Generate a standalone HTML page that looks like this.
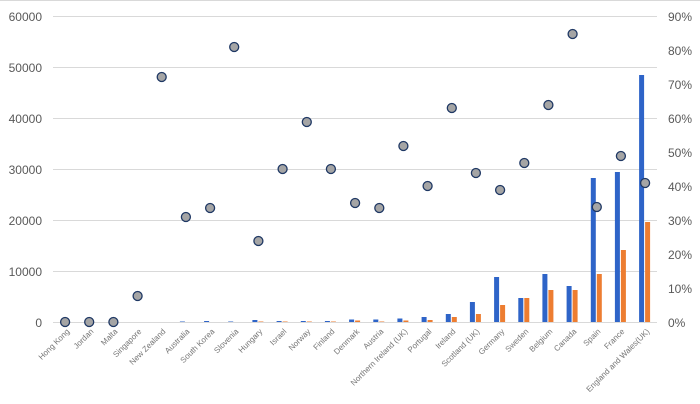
<!DOCTYPE html>
<html><head><meta charset="utf-8"><style>
body{margin:0;background:#fff}
svg{display:block;font-family:"Liberation Sans",sans-serif}
.ax{font-size:12px;fill:#595959}
.cat{font-size:8px;fill:#767676}
.b{fill:#2e64c8}
.o{fill:#ed7d31}
.d{fill:#a5a5a5;stroke:#1f3864;stroke-width:1.3}
</style></head><body>
<svg width="700" height="404" viewBox="0 0 700 404">
<rect x="0" y="0" width="700" height="404" fill="#fff"/>
<line x1="0" y1="0.5" x2="700" y2="0.5" stroke="#d9d9d9"/>
<g stroke="#d9d9d9" stroke-width="1">
<line x1="53" y1="16.5" x2="657" y2="16.5"/>
<line x1="53" y1="67.5" x2="657" y2="67.5"/>
<line x1="53" y1="118.5" x2="657" y2="118.5"/>
<line x1="53" y1="169.5" x2="657" y2="169.5"/>
<line x1="53" y1="220.5" x2="657" y2="220.5"/>
<line x1="53" y1="271.5" x2="657" y2="271.5"/>
<line x1="53" y1="322.5" x2="657" y2="322.5"/>
</g>
<g class="ax" text-anchor="end">
<text x="42" y="21">60000</text><text x="42" y="72">50000</text><text x="42" y="123">40000</text>
<text x="42" y="174">30000</text><text x="42" y="225">20000</text><text x="42" y="276">10000</text><text x="42" y="327">0</text>
</g>
<g class="ax">
<text x="668" y="21">90%</text><text x="668" y="55">80%</text><text x="668" y="89">70%</text>
<text x="668" y="123">60%</text><text x="668" y="157">50%</text><text x="668" y="191">40%</text>
<text x="668" y="225">30%</text><text x="668" y="259">20%</text><text x="668" y="293">10%</text><text x="668" y="327">0%</text>
</g>
<g>
<rect class="b" x="179.9" y="321.5" width="5" height="0.5"/>
<rect class="b" x="204.1" y="321" width="5" height="1"/>
<rect class="b" x="228.2" y="321.5" width="5" height="0.5"/>
<rect class="b" x="252.4" y="320" width="5" height="2"/><rect class="o" x="258.4" y="321.5" width="5" height="0.5"/>
<rect class="b" x="276.6" y="321" width="5" height="1"/><rect class="o" x="282.6" y="321.5" width="5" height="0.5"/>
<rect class="b" x="300.8" y="321" width="5" height="1"/><rect class="o" x="306.8" y="321.5" width="5" height="0.5"/>
<rect class="b" x="324.9" y="321" width="5" height="1"/><rect class="o" x="330.9" y="321.5" width="5" height="0.5"/>
<rect class="b" x="349.1" y="319.5" width="5" height="2.5"/><rect class="o" x="355.1" y="320.5" width="5" height="1.5"/>
<rect class="b" x="373.3" y="319.5" width="5" height="2.5"/><rect class="o" x="379.3" y="321.5" width="5" height="0.5"/>
<rect class="b" x="397.4" y="318.5" width="5" height="3.5"/><rect class="o" x="403.4" y="320.5" width="5" height="1.5"/>
<rect class="b" x="421.6" y="317" width="5" height="5"/><rect class="o" x="427.6" y="320" width="5" height="2"/>
<rect class="b" x="445.8" y="314" width="5" height="8"/><rect class="o" x="451.8" y="317" width="5" height="5"/>
<rect class="b" x="469.9" y="302" width="5" height="20"/><rect class="o" x="475.9" y="314" width="5" height="8"/>
<rect class="b" x="494.1" y="277" width="5" height="45"/><rect class="o" x="500.1" y="305" width="5" height="17"/>
<rect class="b" x="518.3" y="298" width="5" height="24"/><rect class="o" x="524.3" y="298" width="5" height="24"/>
<rect class="b" x="542.4" y="274" width="5" height="48"/><rect class="o" x="548.4" y="290" width="5" height="32"/>
<rect class="b" x="566.6" y="286" width="5" height="36"/><rect class="o" x="572.6" y="290" width="5" height="32"/>
<rect class="b" x="590.8" y="178" width="5" height="144"/><rect class="o" x="596.8" y="274" width="5" height="48"/>
<rect class="b" x="614.9" y="172" width="5" height="150"/><rect class="o" x="620.9" y="250" width="5" height="72"/>
<rect class="b" x="639.1" y="75" width="5" height="247"/><rect class="o" x="645.1" y="222" width="5" height="100"/>
</g>
<g class="d">
<circle cx="65.1" cy="322" r="4.5"/><circle cx="89.2" cy="322" r="4.5"/><circle cx="113.4" cy="322" r="4.5"/>
<circle cx="137.6" cy="296" r="4.5"/><circle cx="161.7" cy="77" r="4.5"/><circle cx="185.9" cy="217" r="4.5"/>
<circle cx="210.1" cy="208" r="4.5"/><circle cx="234.2" cy="47" r="4.5"/><circle cx="258.4" cy="241" r="4.5"/>
<circle cx="282.6" cy="169" r="4.5"/><circle cx="306.8" cy="122" r="4.5"/><circle cx="330.9" cy="169" r="4.5"/>
<circle cx="355.1" cy="203" r="4.5"/><circle cx="379.3" cy="208" r="4.5"/><circle cx="403.4" cy="146" r="4.5"/>
<circle cx="427.6" cy="186" r="4.5"/><circle cx="451.8" cy="108" r="4.5"/><circle cx="475.9" cy="173" r="4.5"/>
<circle cx="500.1" cy="190" r="4.5"/><circle cx="524.3" cy="163" r="4.5"/><circle cx="548.4" cy="105" r="4.5"/>
<circle cx="572.6" cy="34" r="4.5"/><circle cx="596.8" cy="207" r="4.5"/><circle cx="620.9" cy="156" r="4.5"/>
<circle cx="645.1" cy="183" r="4.5"/>
</g>
<g class="cat" text-anchor="end">
<text transform="translate(70,332) rotate(-45)">Hong Kong</text>
<text transform="translate(94,332) rotate(-45)">Jordan</text>
<text transform="translate(118,332) rotate(-45)">Malta</text>
<text transform="translate(142,332) rotate(-45)">Singapore</text>
<text transform="translate(166,332) rotate(-45)">New Zealand</text>
<text transform="translate(190,332) rotate(-45)">Australia</text>
<text transform="translate(215,332) rotate(-45)">South Korea</text>
<text transform="translate(239,332) rotate(-45)">Slovenia</text>
<text transform="translate(263,332) rotate(-45)">Hungary</text>
<text transform="translate(287,332) rotate(-45)">Israel</text>
<text transform="translate(311,332) rotate(-45)">Norway</text>
<text transform="translate(335,332) rotate(-45)">Finland</text>
<text transform="translate(360,332) rotate(-45)">Denmark</text>
<text transform="translate(384,332) rotate(-45)">Austria</text>
<text transform="translate(408,332) rotate(-45)">Northern Ireland (UK)</text>
<text transform="translate(432,332) rotate(-45)">Portugal</text>
<text transform="translate(456,332) rotate(-45)">Ireland</text>
<text transform="translate(480,332) rotate(-45)">Scotland (UK)</text>
<text transform="translate(505,332) rotate(-45)">Germany</text>
<text transform="translate(529,332) rotate(-45)">Sweden</text>
<text transform="translate(553,332) rotate(-45)">Belgium</text>
<text transform="translate(577,332) rotate(-45)">Canada</text>
<text transform="translate(601,332) rotate(-45)">Spain</text>
<text transform="translate(625,332) rotate(-45)">France</text>
<text transform="translate(650,332) rotate(-45)">England and Wales(UK)</text>
</g>
</svg>
</body></html>
